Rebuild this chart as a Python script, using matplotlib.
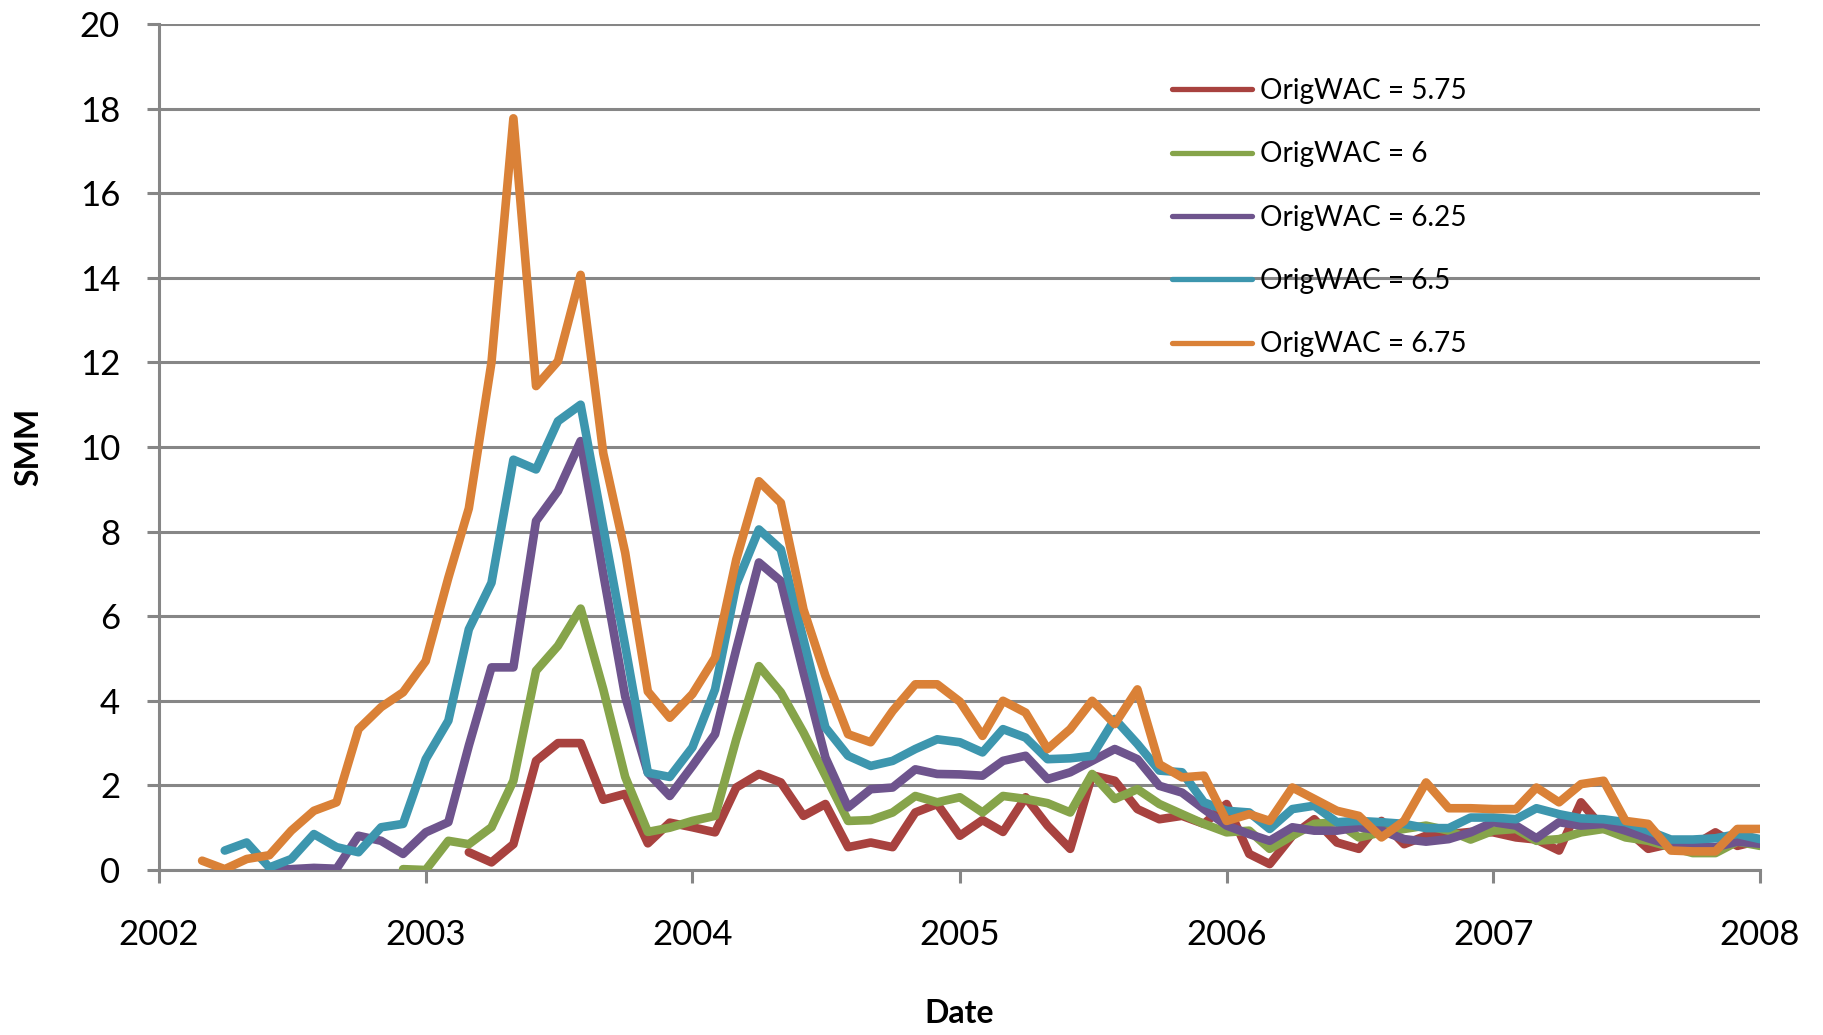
import pandas as pd
import matplotlib
matplotlib.use("Agg")
import matplotlib.pyplot as plt
import matplotlib.dates as mdates

plt.rcParams['font.family'] = ['Lato', 'DejaVu Sans']

# SMM by month, each series starts at its own first month
labels = ["OrigWAC = 5.75", "OrigWAC = 6", "OrigWAC = 6.25", "OrigWAC = 6.5", "OrigWAC = 6.75"]
starts = ["2003-03-01", "2002-12-01", "2002-06-01", "2002-04-01", "2002-03-01"]
colors = ["#A8423F", "#86A44A", "#6E548D", "#3D96AE", "#DA8137"]

smm_575 = [0.42, 0.18, 0.61, 2.58, 3.0, 3.0, 1.66, 1.8, 0.63, 1.12, 1.01, 0.89, 1.95, 2.27,
           2.07, 1.28, 1.56, 0.54, 0.65, 0.54, 1.36, 1.56, 0.81, 1.18, 0.9, 1.72, 1.05, 0.5,
           2.24, 2.11, 1.44, 1.2, 1.28, 1.09, 1.56, 0.38, 0.14, 0.81, 1.2, 0.65, 0.5, 1.16,
           0.61, 0.81, 0.85, 0.9, 0.89, 0.77, 0.72, 0.46, 1.6, 0.97, 0.97, 0.5, 0.62, 0.57,
           0.89, 0.57, 0.7]
smm_600 = [0.02, 0.0, 0.69, 0.61, 1.01, 2.11, 4.71, 5.3, 6.18, 4.27, 2.2, 0.9, 1.0, 1.16,
           1.28, 3.09, 4.82, 4.2, 3.25, 2.23, 1.16, 1.18, 1.36, 1.75, 1.6, 1.72, 1.36, 1.75,
           1.68, 1.58, 1.36, 2.27, 1.68, 1.91, 1.56, 1.32, 1.09, 0.89, 0.93, 0.5, 0.81, 1.09,
           1.13, 0.77, 0.89, 0.97, 1.05, 0.93, 0.72, 0.93, 0.97, 0.69, 0.73, 0.89, 0.97, 0.77,
           0.69, 0.54, 0.4, 0.4, 0.67, 0.57]
smm_625 = [0.0, 0.02, 0.05, 0.03, 0.81, 0.69, 0.38, 0.89, 1.13, 2.94, 4.79, 4.79, 8.25, 8.96,
           10.14, 7.0, 4.1, 2.3, 1.75, 2.46, 3.21, 5.22, 7.27, 6.83, 4.67, 2.66, 1.48, 1.91,
           1.95, 2.38, 2.27, 2.26, 2.23, 2.58, 2.7, 2.15, 2.31, 2.58, 2.86, 2.62, 1.99, 1.83,
           1.44, 1.05, 0.85, 0.69, 1.01, 0.93, 0.93, 1.01, 0.93, 0.73, 0.67, 0.73, 0.89, 1.13,
           1.05, 0.75, 1.13, 1.05, 1.09, 0.93, 0.75, 0.59, 0.57, 0.54, 0.67, 0.62]
smm_650 = [0.46, 0.65, 0.06, 0.26, 0.85, 0.54, 0.42, 1.01, 1.09, 2.62, 3.53, 5.69, 6.79, 9.7,
           9.47, 10.61, 11.0, 8.1, 5.3, 2.3, 2.2, 2.9, 4.27, 6.75, 8.05, 7.58, 5.45, 3.37, 2.7,
           2.46, 2.58, 2.86, 3.09, 3.02, 2.78, 3.33, 3.13, 2.62, 2.64, 2.7, 3.57, 2.98, 2.35,
           2.31, 1.6, 1.4, 1.36, 0.97, 1.44, 1.52, 1.13, 1.16, 1.13, 1.09, 0.99, 0.99, 1.24,
           1.24, 1.2, 1.46, 1.32, 1.22, 1.2, 1.13, 0.93, 0.72, 0.72, 0.75, 0.85, 0.73]
smm_675 = [0.22, 0.02, 0.26, 0.35, 0.93, 1.4, 1.6, 3.33, 3.85, 4.2, 4.94, 6.91, 8.55, 12.0,
           17.77, 11.44, 12.03, 14.07, 9.85, 7.5, 4.22, 3.6, 4.16, 5.02, 7.34, 9.19, 8.68, 6.16,
           4.59, 3.21, 3.02, 3.76, 4.39, 4.39, 3.98, 3.17, 4.0, 3.72, 2.86, 3.33, 4.0, 3.45,
           4.27, 2.5, 2.19, 2.23, 1.16, 1.32, 1.16, 1.95, 1.68, 1.4, 1.28, 0.77, 1.16, 2.07,
           1.46, 1.46, 1.44, 1.44, 1.95, 1.6, 2.03, 2.11, 1.16, 1.09, 0.46, 0.44, 0.44, 0.97,
           0.97]
series = [smm_575, smm_600, smm_625, smm_650, smm_675]

fig = plt.figure(figsize=(18.23, 10.35), dpi=100)
ax = fig.add_axes([159/1823, 1-870/1035, 1601/1823, 846/1035])

for vals, start, col, lab in zip(series, starts, colors, labels):
    dates = pd.date_range(start, periods=len(vals), freq="MS")
    ax.plot(dates, vals, color=col, lw=6.2, label=lab,
            solid_joinstyle='round', solid_capstyle='round', zorder=3)

ax.set_xlim(pd.Timestamp("2002-01-01"), pd.Timestamp("2008-01-01"))
ax.set_ylim(0, 20)
ax.set_yticks(range(0, 21, 2))
ax.xaxis.set_major_locator(mdates.YearLocator())
ax.xaxis.set_major_formatter(mdates.DateFormatter("%Y"))

ax.grid(axis='y', color='#868686', lw=2.2, zorder=1)
ax.set_axisbelow(True)
for s in ['top', 'right']:
    ax.spines[s].set_visible(False)
for s in ['left', 'bottom']:
    ax.spines[s].set_color('#868686')
    ax.spines[s].set_linewidth(2.2)
ax.tick_params(axis='both', direction='out', length=9, width=2.2, color='#868686',
               labelsize=25)
ax.tick_params(axis='y', pad=19)
ax.tick_params(axis='x', pad=26)

ax.set_xlabel("Date", fontsize=23, fontweight='bold', labelpad=35)
ax.set_ylabel("SMM", fontsize=23, fontweight='bold', labelpad=26)

leg = ax.legend(loc='upper left', bbox_to_anchor=(0.633, 0.936), frameon=False,
                fontsize=20.2, handlelength=2.85, handletextpad=0.27, labelspacing=1.33,
                borderaxespad=0, borderpad=0)
for h in leg.get_lines():
    h.set_linewidth(3.8)

plt.savefig("out.png", dpi=100)
